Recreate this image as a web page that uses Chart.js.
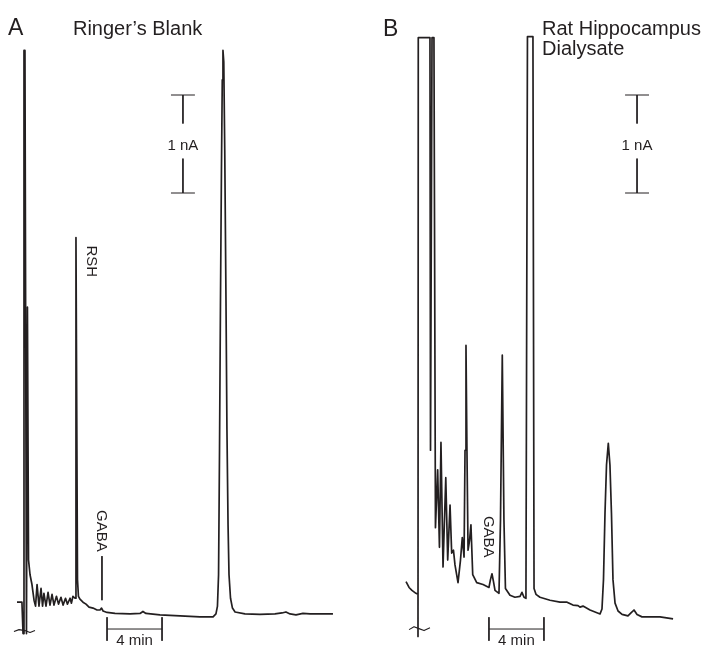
<!DOCTYPE html>
<html>
<head>
<meta charset="utf-8">
<script src="https://cdn.jsdelivr.net/npm/chart.js@4.4.1/dist/chart.umd.min.js"></script>
<style>
  html, body { margin: 0; padding: 0; background: #fff; }
  .panel { position: absolute; top: 0; width: 354px; height: 645px; }
  #panelA { left: 0; }
  #panelB { left: 354px; }
</style>
</head>
<body>
<div class="panel" id="panelA"><canvas id="chartA"></canvas></div>
<div class="panel" id="panelB"><canvas id="chartB"></canvas></div>
<script>
// Chromatograms. Time in min from injection,
// detector current in nA above the baseline.

// Panel A: Ringer's blank
const ringerTime = [-0.51, -0.15, -0.07, 0, 0.07, 0.18, 0.25, 0.33, 0.44, 0.58, 0.73, 0.84, 0.95, 1.09,
  1.24, 1.35, 1.45, 1.60, 1.75, 1.89, 2.04, 2.18, 2.36, 2.51, 2.69, 2.84, 3.02, 3.16, 3.35, 3.45, 3.56,
  3.71, 3.78, 3.89, 3.96, 4.07, 4.29, 4.51, 4.73, 5.02, 5.31, 5.53, 5.64, 5.75, 6.04, 6.62,
  7.71, 8.44, 8.65, 8.87, 9.89, 11.35, 12.80, 13.75, 13.96, 14.07, 14.15, 14.22, 14.29, 14.36, 14.42,
  14.47, 14.53, 14.60, 14.69, 14.76, 14.84, 14.91, 15.02, 15.16, 15.35, 16.07, 17.16, 18.25, 18.76,
  19.05, 19.35, 19.78, 20.29, 20.80, 22.47];
const ringerCurrent = [0.08, 0.08, -0.24, 5.71, 5.71, -0.24, 3.09, 0.51, 0.36, 0.26, 0.10, 0.04, 0.26,
  0.04, 0.22, 0.04, 0.17, 0.04, 0.18, 0.05, 0.16, 0.05, 0.14, 0.06, 0.13, 0.05, 0.12, 0.06, 0.12, 0.07,
  0.14, 0.12, 3.80, 0.31, 0.14, 0.11, 0.08, 0.06, 0.03, 0.02, 0.00, 0.00, 0.02, -0.01,
  -0.025, -0.035, -0.04, -0.035, -0.015, -0.035, -0.05, -0.06, -0.07, -0.07, -0.04, 0.04, 0.36, 1.63,
  3.16, 4.49, 5.41, 5.71, 5.59, 4.69, 3.16, 1.84, 0.87, 0.36, 0.12, 0.02, -0.02, -0.04, -0.045, -0.04,
  -0.03, -0.02, -0.04, -0.05, -0.035, -0.04, -0.04];

// Panel B: rat hippocampus dialysate (flat tops = pen off scale)
const dialysateTime = [-0.87, -0.65, -0.44, -0.15, 0, 0, 0.02, 0.87, 0.91, 1.02, 1.16, 1.27, 1.43, 1.56,
  1.67, 1.82, 2.02, 2.16, 2.33, 2.45, 2.58, 2.69, 2.91, 3.09, 3.22, 3.35, 3.42, 3.49, 3.56, 3.64, 3.75,
  3.85, 3.98, 4.27, 4.73, 5.16, 5.27, 5.38, 5.49, 5.60, 5.89, 6.0, 6.13, 6.25, 6.36, 6.69, 7.05, 7.42,
  7.56, 7.71, 7.85, 7.96, 8.36, 8.44, 8.58, 8.87, 9.60, 10.33, 10.84, 11.27, 11.64, 11.78, 12.0, 12.51,
  13.24, 13.38, 13.49, 13.6, 13.71, 13.84, 13.96, 14.07, 14.18, 14.33, 14.55, 14.84, 15.27, 15.49,
  15.71, 15.93, 16.29, 17.6, 18.55];
const dialysateCurrent = [0.29, 0.23, 0.20, 0.17, 0.16, -0.27, 5.84, 5.84, 1.63, 5.84, 5.84, 0.84, 1.43,
  0.64, 1.71, 0.44, 1.35, 0.51, 1.07, 0.58, 0.61, 0.46, 0.28, 0.51, 0.74, 0.54, 1.63, 2.70, 1.63, 0.61,
  0.71, 0.87, 0.36, 0.28, 0.26, 0.23, 0.31, 0.37, 0.29, 0.20, 0.17, 0.92, 2.60, 0.92, 0.22, 0.15, 0.13,
  0.14, 0.18, 0.13, 0.12, 5.85, 5.85, 0.22, 0.16, 0.13, 0.10, 0.08, 0.08, 0.05, 0.045, 0.03, 0.04, 0.0,
  -0.04, 0.01, 0.31, 0.99, 1.48, 1.70, 1.48, 0.99, 0.31, 0.07, -0.01, -0.045, -0.06, -0.03, 0.0, -0.045,
  -0.07, -0.07, -0.09];

// axis-break squiggles under the injection mark
const breakTimeA = [-0.73, -0.36, 0.07, 0.44, 0.80];
const breakCurrentA = [-0.22, -0.20, -0.21, -0.23, -0.21];
const breakTimeB = [-0.65, -0.29, 0.07, 0.44, 0.87];
const breakCurrentB = [-0.20, -0.17, -0.19, -0.21, -0.18];

// calibration bars
const CAL_NA = 1;
const CAL_MIN = 4;

// -----------------------------------------------------------------------------

const INK = '#231f20';
const FONT = '"Liberation Sans", Arial, Helvetica, sans-serif';

function pairs(xs, ys) {
  return xs.map((x, i) => ({ x, y: ys[i] }));
}

function seg(x0, y0, x1, y1) {
  return [{ x: x0, y: y0 }, { x: x1, y: y1 }];
}

// 1 nA bar with a gap for its label, plus the 4 min bar with end ticks
function calibration(naAt, naFrom, minFrom, minAt) {
  const cap = 0.87;
  const gap = 0.179;
  const mid = naFrom + CAL_NA / 2;
  const tick = 0.12;
  const minTo = minFrom + CAL_MIN;
  return [
    seg(naAt - cap, naFrom + CAL_NA, naAt + cap, naFrom + CAL_NA),
    seg(naAt, naFrom + CAL_NA, naAt, mid + gap + 0.03),
    seg(naAt, mid - gap + 0.03, naAt, naFrom),
    seg(naAt - cap, naFrom, naAt + cap, naFrom),
    seg(minFrom, minAt, minTo, minAt),
    seg(minFrom, minAt + tick, minFrom, minAt - tick),
    seg(minTo, minAt + tick, minTo, minAt - tick),
  ];
}

const textPlugin = {
  id: 'panelText',
  afterDraw(chart) {
    const labels = chart.options.plugins.panelText.labels;
    const ctx = chart.ctx;
    const xs = chart.scales.x;
    const ys = chart.scales.y;
    ctx.save();
    ctx.fillStyle = INK;
    for (const l of labels) {
      const px = xs.getPixelForValue(l.t);
      const py = ys.getPixelForValue(l.v);
      ctx.font = `${l.size}px ${FONT}`;
      ctx.save();
      ctx.translate(px, py);
      if (l.rotate) {
        ctx.rotate(Math.PI / 2);
        ctx.textAlign = 'left';
        ctx.textBaseline = 'middle';
      } else {
        ctx.textAlign = l.align || 'left';
        ctx.textBaseline = l.baseline || 'alphabetic';
      }
      ctx.fillText(l.text, 0, 0);
      ctx.restore();
    }
    ctx.restore();
  },
};

function makePanel(canvasId, cfg) {
  const lines = [
    { data: cfg.trace, borderWidth: 1.7 },
    { data: cfg.brk, borderWidth: 1.1 },
    ...cfg.extra.map((d) => ({ data: d, borderWidth: 1 })),
  ].map((d) => ({
    ...d,
    showLine: true,
    borderColor: INK,
    pointRadius: 0,
    tension: 0,
    borderJoinStyle: 'round',
    clip: false,
  }));

  return new Chart(document.getElementById(canvasId), {
    type: 'scatter',
    data: { datasets: lines },
    options: {
      animation: false,
      responsive: true,
      maintainAspectRatio: false,
      layout: { padding: 0 },
      events: [],
      plugins: {
        legend: { display: false },
        tooltip: { enabled: false },
        panelText: { labels: cfg.labels },
      },
      scales: {
        x: { type: 'linear', display: false, min: cfg.tMin, max: cfg.tMax },
        y: { type: 'linear', display: false, min: -0.357, max: 6.2245 },
      },
    },
    plugins: [textPlugin],
  });
}

makePanel('chartA', {
  trace: pairs(ringerTime, ringerCurrent),
  brk: pairs(breakTimeA, breakCurrentA),
  extra: [
    ...calibration(11.56, 4.255, 6.04, -0.194),
    seg(5.67, 0.55, 5.67, 0.10), // GABA pointer
  ],
  tMin: -1.745,
  tMax: 24.0,
  labels: [
    { text: 'A', t: -1.16, v: 5.87, size: 23 },
    { text: 'Ringer\u2019s Blank', t: 3.56, v: 5.87, size: 20 },
    { text: '1 nA', t: 11.56, v: 4.74, size: 15, align: 'center', baseline: 'middle' },
    { text: 'RSH', t: 4.87, v: 3.72, size: 15, rotate: true },
    { text: 'GABA', t: 5.60, v: 1.02, size: 15, rotate: true },
    { text: '4 min', t: 8.04, v: -0.362, size: 15, align: 'center' },
  ],
});

makePanel('chartB', {
  trace: pairs(dialysateTime, dialysateCurrent),
  brk: pairs(breakTimeB, breakCurrentB),
  extra: calibration(15.93, 4.255, 5.16, -0.194),
  tMin: -4.6545,
  tMax: 21.0909,
  labels: [
    { text: 'B', t: -2.55, v: 5.86, size: 23 },
    { text: 'Rat Hippocampus', t: 9.02, v: 5.87, size: 20 },
    { text: 'Dialysate', t: 9.02, v: 5.665, size: 20 },
    { text: '1 nA', t: 15.93, v: 4.74, size: 15, align: 'center', baseline: 'middle' },
    { text: 'GABA', t: 5.09, v: 0.96, size: 15, rotate: true },
    { text: '4 min', t: 7.16, v: -0.362, size: 15, align: 'center' },
  ],
});
</script>
</body>
</html>
